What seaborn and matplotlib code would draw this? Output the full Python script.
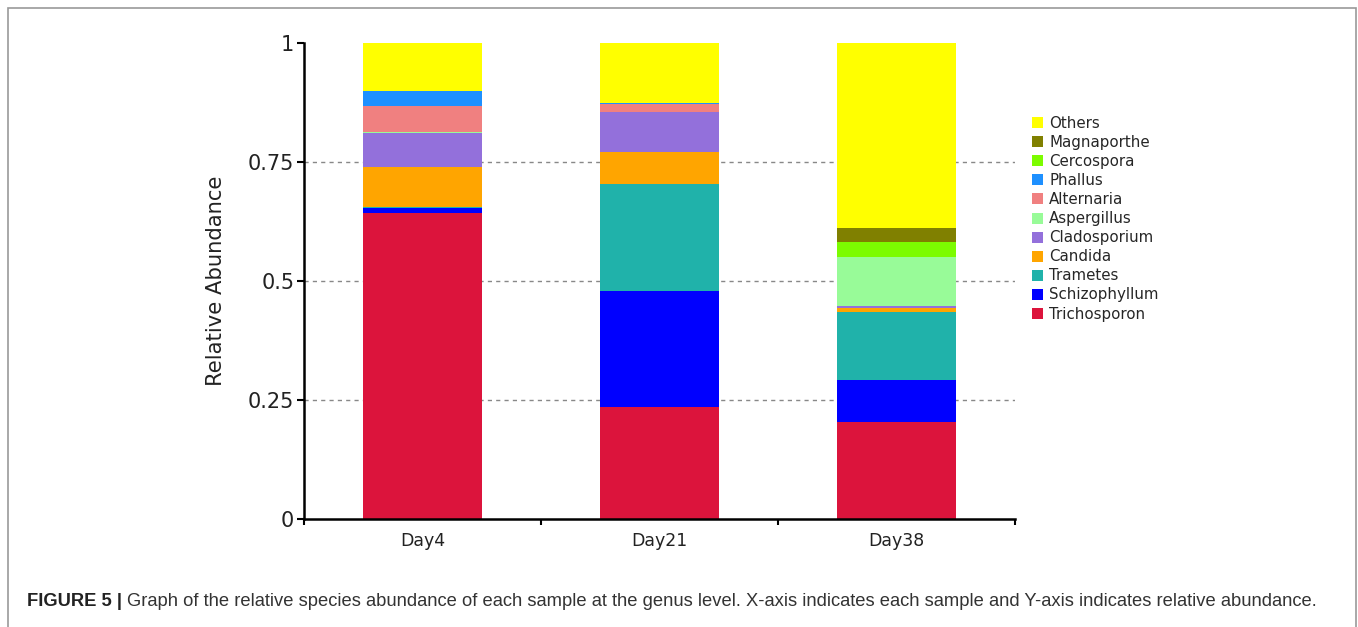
import matplotlib
matplotlib.use("Agg")
import matplotlib.pyplot as plt
from matplotlib.patches import Rectangle, Patch
import seaborn as sns
import numpy as np
import pandas as pd

samples = ["Day4", "Day21", "Day38"]
genera = ["Trichosporon", "Schizophyllum", "Trametes", "Candida", "Cladosporium",
          "Aspergillus", "Alternaria", "Phallus", "Cercospora", "Magnaporthe", "Others"]
trichosporon = [0.643, 0.236, 0.203]
schizophyllum = [0.010, 0.244, 0.090]
trametes = [0.003, 0.223, 0.141]
candida = [0.083, 0.067, 0.010]
cladosporium = [0.072, 0.084, 0.003]
aspergillus = [0.002, 0.002, 0.103]
alternaria = [0.054, 0.016, 0.001]
phallus = [0.033, 0.001, 0.000]
cercospora = [0.000, 0.000, 0.031]
magnaporthe = [0.000, 0.000, 0.029]
others = [0.100, 0.127, 0.389]
yticks = [0, 0.25, 0.5, 0.75, 1]
yticklabels = ["0", "0.25", "0.5", "0.75", "1"]

colors = {"Trichosporon": "#DC143C", "Schizophyllum": "#0000FF", "Trametes": "#20B2AA",
          "Candida": "#FFA500", "Cladosporium": "#9370DB", "Aspergillus": "#98FB98",
          "Alternaria": "#F08080", "Phallus": "#1E90FF", "Cercospora": "#7CFC00",
          "Magnaporthe": "#808000", "Others": "#FFFF00"}

values = [trichosporon, schizophyllum, trametes, candida, cladosporium, aspergillus,
          alternaria, phallus, cercospora, magnaporthe, others]
df = pd.DataFrame({g: v for g, v in zip(genera, values)}, index=samples)

sns.set_style("white")
plt.rcParams['font.family'] = ['DejaVu Sans']

fig = plt.figure(figsize=(13.58, 6.27), dpi=100)
ax = fig.add_axes([304/1358, 108/627, 711/1358, 476/627])

for y in [0.25, 0.5, 0.75]:
    ax.axhline(y, color="#888888", linestyle=(0, (3, 3)), linewidth=1.0, zorder=0)

bottom = np.zeros(len(samples))
for g in genera:
    sns.barplot(x=samples, y=df[g].values, bottom=bottom, color=colors[g],
                width=0.5, ax=ax, linewidth=0, saturation=1, zorder=2)
    bottom = bottom + df[g].values

ax.set_xlim(-0.5, 2.5)
ax.set_ylim(0, 1)
ax.set_yticks(yticks)
ax.set_yticklabels(yticklabels, fontsize=15, color="#222222")
ax.set_xticks([-0.5, 0.5, 1.5, 2.5], minor=False)
ax.set_xticklabels([])
ax.set_xticks([0, 1, 2], minor=True)
ax.set_xticklabels(samples, minor=True, fontsize=12.5, color="#222222")
ax.tick_params(axis="x", which="minor", bottom=True, length=0, pad=9)
ax.tick_params(axis="x", which="major", bottom=True, length=4, width=1.5, direction="out", color="black")
ax.tick_params(axis="y", left=True, length=5, width=1.5, direction="out", color="black", pad=2)
ax.set_ylabel("Relative Abundance", fontsize=15.2, color="#222222", labelpad=16)
ax.set_xlabel("")
for s in ["top", "right"]:
    ax.spines[s].set_visible(False)
for s in ["left", "bottom"]:
    ax.spines[s].set_linewidth(1.8)
    ax.spines[s].set_color("black")

handles = [Patch(facecolor=colors[g], edgecolor="none", label=g) for g in genera[::-1]]
fig.legend(handles=handles, loc="upper left", bbox_to_anchor=(1026/1358, 1 - 110/627),
           frameon=False, fontsize=10.8, handlelength=0.75, handleheight=0.75,
           handletextpad=0.4, labelspacing=0.27, borderaxespad=0)

fig.patches.append(Rectangle((8/1358, -0.02), (1356 - 8)/1358, (627 - 8)/627 + 0.02,
                             transform=fig.transFigure, fill=False, edgecolor="#999999",
                             linewidth=1.2))

t1 = fig.text(27/1358, 1 - 602/627, "FIGURE 5 | ", fontsize=13.2, fontweight="bold",
              family=["Liberation Sans Narrow", "Liberation Sans"], va="center", color="#222222")
fig.canvas.draw()
bb = t1.get_window_extent(renderer=fig.canvas.get_renderer())
fig.text(bb.x1 / 1358, 1 - 602/627,
         "Graph of the relative species abundance of each sample at the genus level. X-axis indicates each sample and Y-axis indicates relative abundance.",
         fontsize=13.2, family=["Liberation Sans Narrow", "Liberation Sans"], va="center", color="#333333")

fig.savefig("out.png", dpi=100)
